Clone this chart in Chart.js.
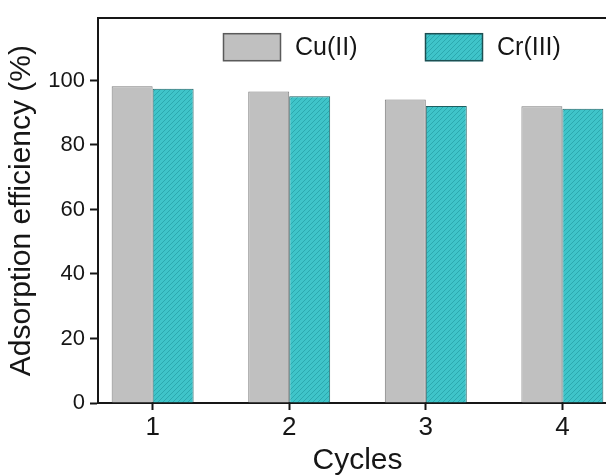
<!DOCTYPE html>
<html>
<head>
<meta charset="utf-8">
<script src="https://cdn.jsdelivr.net/npm/chart.js@4"></script>
<style>
  html, body { margin: 0; padding: 0; background: #fff; overflow: hidden; }
  #wrap { width: 606px; height: 475px; overflow: hidden; position: relative; }
  canvas { display: block; }
</style>
</head>
<body>
<div id="wrap"><canvas id="c" width="640" height="475"></canvas></div>
<script>
// Regeneration cycles and adsorption efficiency (%) for each metal ion
const cycles = [1, 2, 3, 4];
const cuEfficiency = [98.2, 96.6, 94.1, 92.0];
const crEfficiency = [97.4, 95.1, 92.1, 91.2];
const seriesNames = ['Cu(II)', 'Cr(III)'];
const yTickValues = [0, 20, 40, 60, 80, 100];

const FONT = "'Liberation Sans', Arial, Helvetica, sans-serif";
const INK = '#161616';

// diagonal hatch fill for the Cr(III) bars
function hatchPattern(base, line) {
  const s = 5;
  const c = document.createElement('canvas');
  c.width = s; c.height = s;
  const g = c.getContext('2d');
  g.fillStyle = base;
  g.fillRect(0, 0, s, s);
  g.strokeStyle = line;
  g.lineWidth = 1;
  g.beginPath();
  g.moveTo(0, s); g.lineTo(s, 0);
  g.moveTo(-1, 1); g.lineTo(1, -1);
  g.moveTo(s - 1, s + 1); g.lineTo(s + 1, s - 1);
  g.stroke();
  return g.createPattern(c, 'repeat');
}

const cuFill = '#c0c0c0';
const crFill = hatchPattern('#3fc4c9', '#2ca9af');

// legend drawn as a row of boxes inside the plot frame
const boxLegend = {
  id: 'boxLegend',
  afterDatasetsDraw(chart, args, o) {
    const { ctx, chartArea: a } = chart;
    ctx.save();
    ctx.font = o.fontSize + 'px ' + FONT;
    ctx.textBaseline = 'middle';
    ctx.textAlign = 'left';
    chart.data.datasets.forEach((ds, i) => {
      const x = a.left + o.offsetX + i * o.itemStep;
      const y = a.top + o.offsetY;
      ctx.fillStyle = ds.backgroundColor;
      ctx.fillRect(x, y, o.boxWidth, o.boxHeight);
      ctx.lineWidth = o.borderWidth;
      ctx.strokeStyle = o.borderColors[i];
      ctx.strokeRect(x + 0.5, y + 0.5, o.boxWidth - 1, o.boxHeight - 1);
      ctx.fillStyle = INK;
      ctx.fillText(ds.label, x + o.boxWidth + o.gap, y + o.boxHeight / 2 + 1);
    });
    ctx.restore();
  }
};

new Chart(document.getElementById('c'), {
  type: 'bar',
  data: {
    datasets: [
      {
        label: seriesNames[0],
        data: cycles.map((c, i) => ({ x: c, y: cuEfficiency[i] })),
        backgroundColor: cuFill,
        borderColor: '#7d7d7d',
        borderWidth: 1,
        categoryPercentage: 0.6,
        barPercentage: 1.0
      },
      {
        label: seriesNames[1],
        data: cycles.map((c, i) => ({ x: c, y: crEfficiency[i] })),
        backgroundColor: crFill,
        borderColor: '#1d5f62',
        borderWidth: 1,
        categoryPercentage: 0.6,
        barPercentage: 1.0
      }
    ]
  },
  options: {
    responsive: false,
    animation: false,
    devicePixelRatio: 1,
    layout: { padding: { top: 18, left: 0, right: 23, bottom: 0 } },
    plugins: {
      legend: { display: false },
      tooltip: { enabled: false },
      boxLegend: {
        offsetX: 125, offsetY: 15, itemStep: 202,
        boxWidth: 58, boxHeight: 28, gap: 14,
        fontSize: 25, borderWidth: 1.5,
        borderColors: ['#5a5a5a', '#1d4f52']
      }
    },
    scales: {
      x: {
        type: 'linear',
        position: 'bottom',
        offset: false,
        min: 0.6,
        max: 4.4,
        afterBuildTicks: s => { s.ticks = cycles.map(v => ({ value: v })); },
        afterFit: s => { s.height = 72; },
        grid: {
          display: true, offset: false, drawOnChartArea: false, drawTicks: true,
          tickLength: 7, tickWidth: 2, tickColor: INK
        },
        border: { display: true, color: INK, width: 2 },
        ticks: {
          color: INK, padding: 2,
          font: { family: FONT, size: 26 },
          callback: v => String(v)
        },
        title: {
          display: true, text: 'Cycles', color: INK,
          font: { family: FONT, size: 30 },
          padding: { top: 0, bottom: -4 }
        }
      },
      x2: {
        type: 'linear',
        position: 'top',
        offset: false,
        min: 0.6, max: 4.4,
        afterFit: s => { s.height = 0; },
        grid: { display: false, drawTicks: false },
        border: { display: true, color: INK, width: 2 },
        ticks: { display: false }
      },
      y: {
        min: 0,
        max: 119.3,
        afterBuildTicks: s => { s.ticks = yTickValues.map(v => ({ value: v })); },
        afterFit: s => { s.width = 98; },
        grid: {
          display: true, drawOnChartArea: false, drawTicks: true,
          tickLength: 8, tickWidth: 2, tickColor: INK
        },
        border: { display: true, color: INK, width: 2 },
        ticks: {
          color: INK, padding: 5,
          font: { family: FONT, size: 22 }
        },
        title: {
          display: true, text: 'Adsorption efficiency (%)', color: INK,
          font: { family: FONT, size: 30 },
          padding: { top: 4, bottom: 0 }
        }
      }
    }
  },
  plugins: [boxLegend]
});
</script>
</body>
</html>
